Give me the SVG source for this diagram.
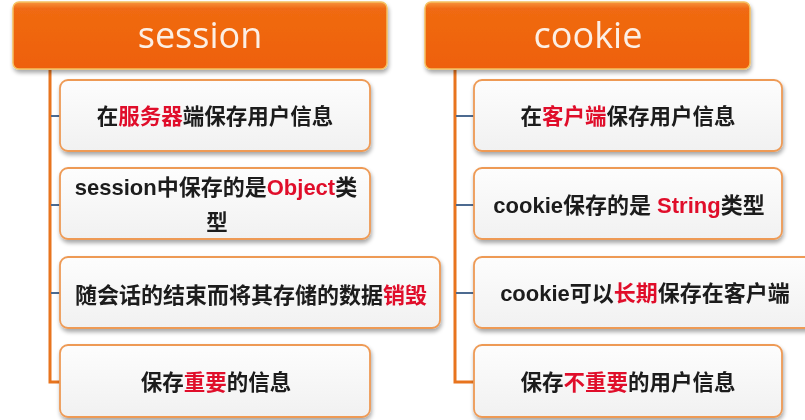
<svg xmlns="http://www.w3.org/2000/svg" width="805" height="420" viewBox="0 0 805 420">
<defs>
<linearGradient id="hdr" x1="0" y1="0" x2="0" y2="1">
<stop offset="0" stop-color="#F7943E"/>
<stop offset="0.1" stop-color="#F06A12"/>
<stop offset="1" stop-color="#EE600A"/>
</linearGradient>
<linearGradient id="box" x1="0" y1="0" x2="0" y2="1">
<stop offset="0" stop-color="#FDFDFD"/>
<stop offset="1" stop-color="#F1F1F1"/>
</linearGradient>
<filter id="sh" x="-5%" y="-10%" width="110%" height="130%">
<feGaussianBlur in="SourceAlpha" stdDeviation="2"/>
<feOffset dx="1" dy="3"/>
<feComponentTransfer><feFuncA type="linear" slope="0.35"/></feComponentTransfer>
<feMerge><feMergeNode/><feMergeNode in="SourceGraphic"/></feMerge>
</filter>
</defs>
<style>
.hdr{fill:url(#hdr);stroke:#F5C060;stroke-width:1.5}
.box{fill:url(#box);stroke:#EE9A55;stroke-width:1.8}
.ht{font-family:"Open Sans","Liberation Sans",sans-serif;font-size:36px;fill:#FCEFE4;text-anchor:middle}
.t{font-family:"Liberation Sans","Noto Sans CJK SC",sans-serif;font-weight:bold;font-size:21.5px;fill:#1A1A1A;text-anchor:middle}
.r{fill:#E0102C}
.trunk{stroke:#E8741E;stroke-width:3;fill:none}
.stub{stroke:#4C6A90;stroke-width:2}
</style>
<rect width="805" height="420" fill="#FFFFFF"/>
<g id="connectors">
<polyline class="trunk" points="50,70 50,382 60,382"/>
<polyline class="trunk" points="455,70 455,382 474,382"/>
<line class="stub" x1="51" y1="116" x2="60" y2="116"/>
<line class="stub" x1="51" y1="205" x2="60" y2="205"/>
<line class="stub" x1="51" y1="293" x2="60" y2="293"/>
<line class="stub" x1="456" y1="116" x2="474" y2="116"/>
<line class="stub" x1="456" y1="205" x2="474" y2="205"/>
<line class="stub" x1="456" y1="293" x2="474" y2="293"/>
</g>
<g id="session" filter="url(#sh)">
<rect class="hdr" x="13" y="2" width="374" height="67" rx="6"/>
<text class="ht" x="200" y="48">session</text>
</g>
<g id="cookie" filter="url(#sh)">
<rect class="hdr" x="425" y="2" width="325" height="67" rx="6"/>
<text class="ht" x="588" y="48">cookie</text>
</g>
<g id="s1" filter="url(#sh)">
<rect class="box" x="60" y="80" width="310" height="71" rx="8"/>
<text class="t" x="215" y="123.5">在<tspan class="r">服务器</tspan>端保存用户信息</text>
</g>
<g id="s2" filter="url(#sh)">
<rect class="box" x="60" y="168" width="310" height="71" rx="8"/>
<text class="t" x="216" y="195" style="font-size:22px">session中保存的是<tspan class="r">Object</tspan>类</text>
<text class="t" x="217" y="230">型</text>
</g>
<g id="s3" filter="url(#sh)">
<rect class="box" x="60" y="257" width="380" height="71" rx="8"/>
<text class="t" x="251" y="302.5" style="font-size:22px">随会话的结束而将其存储的数据<tspan class="r">销毁</tspan></text>
</g>
<g id="s4" filter="url(#sh)">
<rect class="box" x="60" y="345" width="310" height="72" rx="8"/>
<text class="t" x="216" y="389.5">保存<tspan class="r">重要</tspan>的信息</text>
</g>
<g id="c1" filter="url(#sh)">
<rect class="box" x="474" y="80" width="308" height="71" rx="8"/>
<text class="t" x="628" y="123.5">在<tspan class="r">客户端</tspan>保存用户信息</text>
</g>
<g id="c2" filter="url(#sh)">
<rect class="box" x="474" y="168" width="308" height="71" rx="8"/>
<text class="t" x="629" y="212.5" style="font-size:22px">cookie保存的是 <tspan class="r">String</tspan>类型</text>
</g>
<g id="c3" filter="url(#sh)">
<rect class="box" x="474" y="257" width="340" height="71" rx="8"/>
<text class="t" x="645" y="300.5" style="font-size:22px">cookie可以<tspan class="r">长期</tspan>保存在客户端</text>
</g>
<g id="c4" filter="url(#sh)">
<rect class="box" x="474" y="345" width="308" height="72" rx="8"/>
<text class="t" x="628" y="389.5">保存<tspan class="r">不重要</tspan>的用户信息</text>
</g>
</svg>
